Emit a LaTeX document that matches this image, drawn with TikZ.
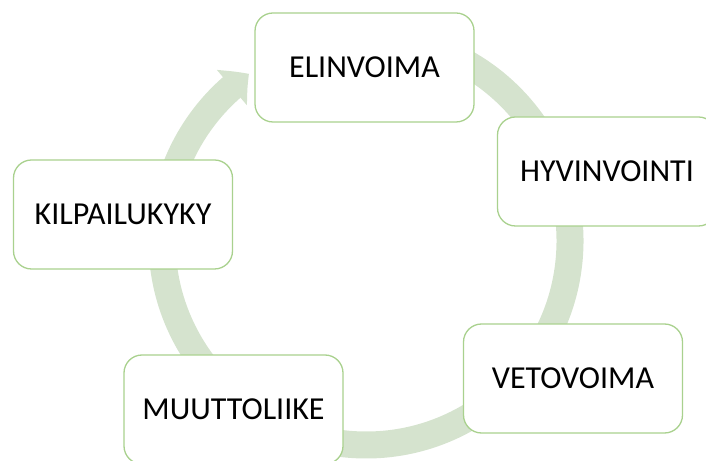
\documentclass[tikz,border=0pt]{standalone}
\usepackage{fontspec}
\setmainfont{Carlito}
\usetikzlibrary{arrows.meta,bending}
\definecolor{ringgreen}{RGB}{213,227,206}
\definecolor{edgegreen}{RGB}{169,209,142}

\begin{document}
\begin{tikzpicture}
  [x=1pt, y=1pt,
   every node/.style={draw=edgegreen, line width=1.3pt, fill=white, rounded corners=18pt,
     minimum width=219pt, minimum height=109pt, inner sep=0pt,
     font=\fontsize{32}{38}\selectfont}]
  \useasboundingbox (0,0) rectangle (706,460);
  \clip (0,0) rectangle (706,460);
  \coordinate (hub) at (366,219);
  % the ring behind the boxes
  \draw[ringgreen, line width=27pt, -{Triangle[length=22pt, width=45pt, bend]}]
    (hub) ++(85:204) arc[start angle=85, end angle=-235, radius=204];
  \node (elinvoima) at (364.5,392.5) {ELINVOIMA};
  \node (hyvinvointi) at (607,288.5) {HYVINVOINTI};
  \node (vetovoima) at (573,81.5) {VETOVOIMA};
  \node (muuttoliike) at (233.5,50.5) {MUUTTOLIIKE};
  \node (kilpailukyky) at (123,245.5) {KILPAILUKYKY};
\end{tikzpicture}
\end{document}
